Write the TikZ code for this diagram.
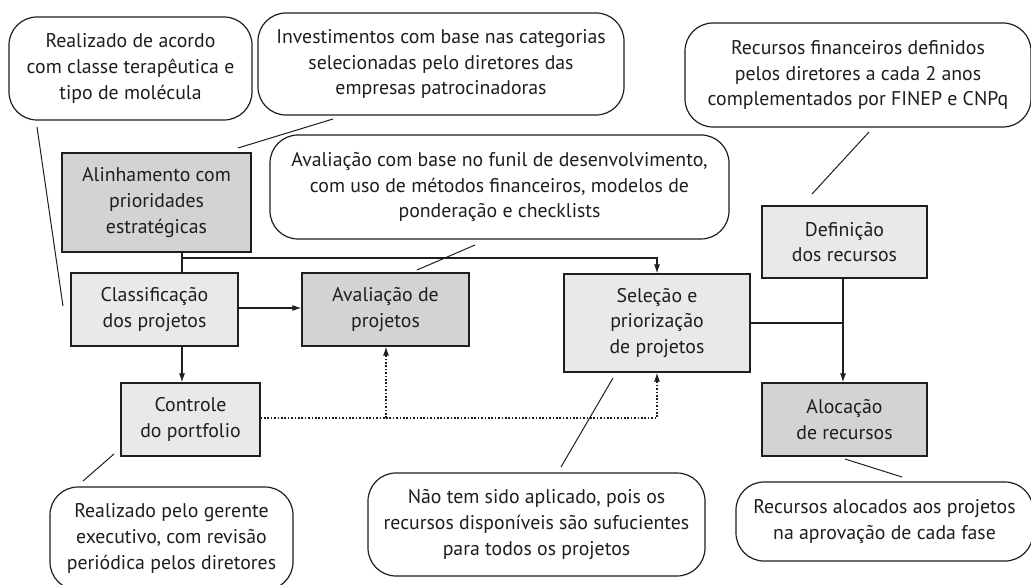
\documentclass[tikz,border=0pt]{standalone}
\usepackage{fontspec}
\setmainfont{PT Sans}
\usetikzlibrary{arrows.meta}
\definecolor{boxdark}{RGB}{211,211,213}
\definecolor{boxlight}{RGB}{233,233,235}
\definecolor{ink}{RGB}{30,30,30}
\tikzset{
  base/.style={draw=ink, line width=1.2pt, align=center, inner sep=0pt, text=ink,
    font=\fontsize{19.8}{25.8}\selectfont},
  darkbox/.style={base, fill=boxdark, rectangle},
  lightbox/.style={base, fill=boxlight, rectangle},
  callout/.style={base, fill=white, rounded corners=28pt},
  conn/.style={draw=ink, line width=1.2pt},
  arr/.style={conn, -{Latex[length=9pt,width=6pt]}},
  dotline/.style={conn, dash pattern=on 1.6pt off 1.8pt},
  ptr/.style={draw=ink, line width=1pt},
}
\begin{document}
\begin{tikzpicture}[x=1pt,y=-1pt]
\useasboundingbox (0,0) rectangle (1031,585);
\clip (0,0) rectangle (1031,585);
% boxes
\node[darkbox, minimum width=189pt, minimum height=99pt] (alin) at (156.5,202.5) {Alinhamento com\\prioridades\\estratégicas};
\node[lightbox, minimum width=167pt, minimum height=73pt] (class) at (154.5,309.5) {Classificação\\dos projetos};
\node[darkbox, minimum width=167pt, minimum height=73pt] (aval) at (385.5,309.5) {Avaliação de\\projetos};
\node[lightbox, minimum width=139pt, minimum height=73pt] (ctrl) at (190.5,419.5) {Controle\\do portfolio};
\node[lightbox, minimum width=186pt, minimum height=98pt] (sel) at (657,323) {Seleção e\\priorização\\de projetos};
\node[lightbox, minimum width=165pt, minimum height=72pt] (def) at (844.5,242) {Definição\\dos recursos};
\node[darkbox, minimum width=165pt, minimum height=73pt] (aloc) at (844.5,419.5) {Alocação\\de recursos};
% callouts
\node[callout, minimum width=243pt, minimum height=103pt] (c1) at (130.5,68.5) {Realizado de acordo\\com classe terapêutica e\\tipo de molécula};
\node[callout, minimum width=366pt, minimum height=102pt] (c2) at (441,64) {Investimentos com base nas categorias\\selecionadas pelo diretores das\\empresas patrocinadoras};
\node[callout, minimum width=459pt, minimum height=104pt] (c3) at (499.5,187) {Avaliação com base no funil de desenvolvimento,\\com uso de métodos financeiros, modelos de\\ponderação e checklists};
\node[callout, minimum width=346pt, minimum height=104pt] (c4) at (858,75) {Recursos financeiros definidos\\pelos diretores a cada 2 anos\\complementados por FINEP e CNPq};
\node[callout, minimum width=243pt, minimum height=103pt] (c5) at (171.5,538.5) {Realizado pelo gerente\\executivo, com revisão\\periódica pelos diretores};
\node[callout, minimum width=337pt, minimum height=103pt] (c6) at (536.5,524.5) {Não tem sido aplicado, pois os\\recursos disponíveis são sufucientes\\para todos os projetos};
\node[callout, minimum width=297pt, minimum height=79pt] (c7) at (884.5,521.5) {Recursos alocados aos projetos\\na aprovação de cada fase};
% pointer coordinates
\coordinate (p1a) at (37,127);  \coordinate (p1b) at (63,306);
\coordinate (p2a) at (333,119); \coordinate (p2b) at (238,148);
\coordinate (p3a) at (475,245); \coordinate (p3b) at (417,270);
\coordinate (p4a) at (869,132); \coordinate (p4b) at (812,194);
\coordinate (p5a) at (114,454); \coordinate (p5b) at (83,481);
\coordinate (p6a) at (613,378); \coordinate (p6b) at (561,467);
\coordinate (p7a) at (845,459); \coordinate (p7b) at (902,477);
\foreach \p in {1,...,7} {\draw[ptr] (p\p a) -- (p\p b);}
% connectors
\coordinate (j1) at (182,258);
\draw[conn] (alin.south -| j1) -- (class.north -| j1);
\draw[arr] (j1) -| (sel.north);
\draw[arr] (class.east |- 0,308) -- (aval.west |- 0,308);
\draw[arr] (class.south -| j1) -- (ctrl.north -| j1);
\coordinate (d1) at (386,418);
\draw[dotline] (ctrl.east |- d1) -- (d1);
\draw[dotline, -{Latex[length=9pt,width=6pt]}] (d1) -- (aval.south -| d1);
\draw[dotline, -{Latex[length=9pt,width=6pt]}] (d1) -| (sel.south);
\coordinate (j2) at (843,323);
\draw[conn] (sel.east |- j2) -- (j2);
\draw[arr] (def.south -| j2) -- (aloc.north -| j2);
\end{tikzpicture}
\end{document}
